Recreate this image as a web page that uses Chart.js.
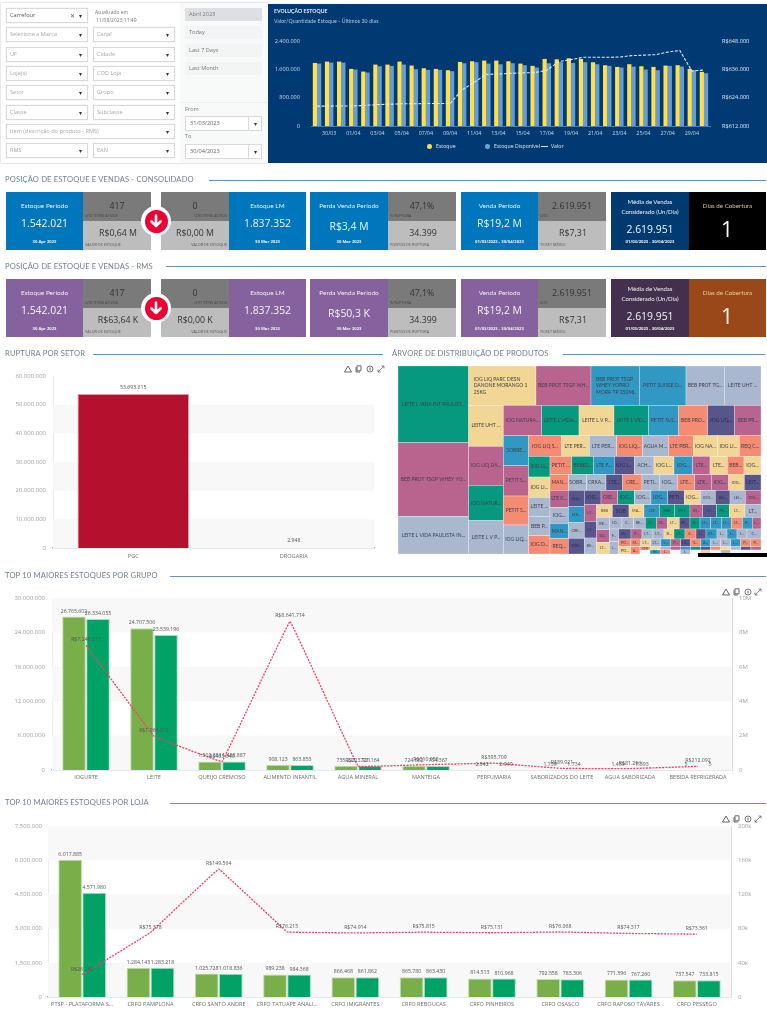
<!DOCTYPE html>
<html lang="pt-BR"><head><meta charset="utf-8"><title>Estoque</title>
<script src="https://cdn.jsdelivr.net/npm/chart.js@4"></script>
<style>
html,body{margin:0;padding:0;background:#fff;width:767px;height:1024px;overflow:hidden}
#root{position:relative;width:767px;height:1024px;overflow:hidden;font-family:"Open Sans",sans-serif;filter:blur(.35px)}
#root div,#root canvas,#root svg{position:absolute}
.t{white-space:nowrap;transform:translate(-50%,-50%);line-height:1}
.l{white-space:nowrap;transform:translate(0,-50%);line-height:1}
.r{white-space:nowrap;transform:translate(-100%,-50%);line-height:1}
</style></head><body><div id="root"></div>
<script>
/* ---------- Evolução estoque ---------- */
const evoDates=["29/03","30/03","31/03","01/04","02/04","03/04","04/04","05/04","06/04","07/04","08/04","09/04","10/04","11/04","12/04","13/04","14/04","15/04","16/04","17/04","18/04","19/04","20/04","21/04","22/04","23/04","24/04","25/04","26/04","27/04","28/04","29/04","30/04"];
const evoEstoque=[1781000,1819000,1819000,1612000,1537000,1734000,1734000,1819000,1706000,1631000,1612000,1575000,1809000,1828000,1847000,1847000,1828000,1762000,1697000,1894000,1884000,1912000,1894000,1800000,1716000,1669000,1744000,1687000,1669000,1706000,1716000,1612000,1528000];
const evoDisponivel=[1762000,1790000,1790000,1594000,1510000,1687000,1697000,1734000,1603000,1584000,1584000,1547000,1772000,1800000,1762000,1744000,1772000,1716000,1650000,1772000,1800000,1781000,1800000,1744000,1697000,1650000,1678000,1594000,1575000,1697000,1678000,1575000,1490000];
const evoValor=[620400,620400,620500,620500,620700,621100,621200,621400,621400,621500,621500,621500,627300,630500,633900,634000,634300,634500,634600,635600,639300,640100,641100,641100,641100,641200,641800,642000,642200,643300,644000,635300,635700];
/* ---------- Ruptura por setor ---------- */
const setorCats=["PGC","DROGARIA"];
const setorValues=[53693615,2948];
/* ---------- Top 10 grupo ---------- */
const grupoCats=["IOGURTE","LEITE","QUEIJO CREMOSO","ALIMENTO INFANTIL","AGUA MINERAL","MANTEIGA","PERFUMARIA","SABORIZADOS DO LEITE","AGUA SABORIZADA","BEBIDA REFRIGERADA"];
const grupoEstoque=[26765602,24707506,1502351,908123,735221,724582,2942,1739,1459,5];
const grupoDisponivel=[26334035,23539196,1488887,863853,721164,704367,2949,1734,1393,5];
const grupoValor=[7246211,1964812,485340,8641714,223721,310058,395709,89921,81296,212092];
/* ---------- Top 10 loja ---------- */
const lojaCats=["PTSP - PLATAFORMA S...","CRFO PAMPLONA","CRFO SANTO ANDRE","CRFO TATUAPE ANALI...","CRFO IMIGRANTES","CRFO REBOUCAS","CRFO PINHEIROS","CRFO OSASCO","CRFO RAPOSO TAVARES","CRFO PESSEGO"];
const lojaEstoque=[6017885,1284143,1025728,989238,866468,865780,814513,792558,771396,737547];
const lojaDisponivel=[4571980,1283218,1018836,984368,861862,863430,810968,783306,767260,733815];
const lojaValor=[26160,75378,149564,76215,74914,75815,75131,76068,74317,73561];
/* ---------- Árvore de distribuição ---------- */
const treeLabels=["LEITE L VIDA INT PAULIST...","BEB PROT TSGP WHEY YO...","LEITE L VIDA PAULISTA IN...",
"IOG LIQ PARC DESN|DANONE MORANGO 1|25KG","BEB PROT TSGP WH...","BEB PROT TSGP|WHEY YOPRO|MORA TP 250ML","PETIT SUISSE D...","BEB PROT TG...","LEITE UHT ...",
"LEITE UHT ...","IOG LIQ DA...","IOG NATUR...","LEITE L V P...",
"IOG NATURA...","LEITE L VIDA...","LEITE L V P...","LEITE L VID...","PETIT SUI...","BEB PRO...","IOG LIQ...","BEB PR...",
"SOBRE...","PETIT S...","PETIT S...","IOG LIQ...",
"IOG LIQ S...","LTE PER...","LTE PER...","IOG LIQ...","AGUA M...","LTE PER...","IOG NA...","IOG LI...","REQ C...",
"IOG LI...","IOG LI...","LEITE ...","BEB P...","IOG D...",
"PETIT ...","BEBID...","LTE F...","IOG L...","ACH...","IOG L...","IOG...","LTE...","LTE...","BEB...","IOG...",
"MAN...","LTE K...","IOG...","MAN...","REQ...",
"SOBR...","CRKA...","LTE...","CRE...","PETI...","IOG...","LTE...","LTE...","IOG...","IOG...","LEIT...",
"IOG...","LTK...","CRE...","SOB...",
"IOG...","CRE...","IOG...","IOG...","IOG...","PETI...","IOG...","IOG...","AG...","LEI...","IOG...",
"LT...","LT...","RE...",
"BEB","SOB","MA...","LTE","BEB","PET","IO...","LT...","PE...","LT...","LT...",
"BE...","SO...","LT...",
"IO...","C...","BE...","S...","IO...","LT...","PE...","B...","LT...","LT...","LT...","LT...","P...","L...",
"F...","I...",
"IO...","P...","LT...","LT...","B...","LT...","S...","L...","IO...","L...","L...","L...","C...",
"PO...","PO...",
"M...","LT...","LT...","S...","P...","IO...","S...","A...","L...","L...","L...","P...","P...",
"A...",
"OR","","","","","","","","","","","",
"","IN.","L.","","L.","","","","","","",""];
const treeValues=[48760,46852,23956,
23836,19470,17110,16520,13570,12980,
12792,12168,11024,10400,
10465,10192,9555,9464,8190,7917,7371,7189,
6840,6916,6612,6612,
6076,5208,5084,4774,4836,4650,4464,4092,4030,
3968,3904,3648,3712,3520,
3575,3575,3465,3300,3245,3300,3080,2860,2860,2750,2805,
2585,2805,2640,2530,2530,
2585,2726,2350,2726,2444,2538,2444,2350,2444,2209,2350,
2352,2304,2256,2256,
2150,2150,2150,2150,2150,2150,2064,1935,1892,1978,2021,
1850,1850,1776,
1786,1900,1710,1748,1748,1748,1444,1596,1444,1786,1824,
1406,1444,1330,
1330,1190,1260,1155,1155,1260,1120,1050,1120,1120,1050,1155,1050,910,
1064,1036,
1110,990,990,990,900,990,990,900,990,900,900,900,1260,
828,792,
690,690,690,690,690,690,690,690,690,690,690,690,713,
616,
303,302,303,302,303,302,303,302,303,302,303,303,
363,363,363,363,363,363,363,363,363,363,363,363];
const treeTones="GPL"+"YPBBLL"+"YPGL"+"PGYGBSDP"+"BPSL"+"SYLSLSYYS"+"GYLLS"+"SGBDLYBPYSY"+"SPLBS"+"LLDSLLSPPYD"+"DBLD"+"DPGLBDYLDLP"+"PDL"+"YDYBGGPDGYL"+"LPY"+"LLLGPYDGBBBSBP"+"LL"+"DPLLYGSDBLBLL"+"SY"+"SYLBPDSBLLBSS"+"S"+"SYLPBGDSYLDP"+"WBSWLWYWLWWW";
const treeStripCounts=[3,6,4,8,4,9,5,11,5,11,4,11,3,11,3,14,2,13,2,13,1,12,12];
const treeStripDirs="VHVHVHVHVHVHVHVHVHVHVHH";
/* ---------- Cards ---------- */
const cardRows=[
 {main:"#0076bd",dark:"#003a70",side:"#000000",sideTitle:"#d8c98e",arrowVal:"R$0,64 M",lmVal:"R$0,00 M",perda:"R$3,4 M"},
 {main:"#85619d",dark:"#43304f",side:"#9a4819",sideTitle:"#e8cf9a",arrowVal:"R$63,64 K",lmVal:"R$0,00 K",perda:"R$50,3 K"}
];

const root=document.getElementById('root');
const LATO='Lato,"Open Sans",sans-serif';
function box(x,y,w,h,bg,extra){const d=document.createElement('div');d.style.cssText=`left:${x}px;top:${y}px;width:${w}px;height:${h}px;background:${bg};box-sizing:border-box;${extra||''}`;root.appendChild(d);return d;}
function txt(x,y,s,size,color,cls,extra){const d=document.createElement('div');d.className=cls||'t';d.textContent=s;d.style.cssText=`left:${x}px;top:${y}px;font-size:${size}px;color:${color};${extra||''}`;root.appendChild(d);return d;}
function heading(x,y,s,lineFrom,lineTo){txt(x,y,s,7.6,'#6f8090','l',`font-family:${LATO};letter-spacing:.02em`);box(lineFrom,y-.5,lineTo-lineFrom,1,'#6a8fb8');}

/* filter panel */
box(1,3,267,160,'#fff','box-shadow:0 0 2px #bbb');
box(180,3,88,160,'#f8f9f9');
box(180,102,88,1,'#eeeeee');
function select(x,y,w,s,c,clear){box(x,y,w,15,'#fff','border:1px solid #d9d9d9;box-shadow:0 0 1px #ddd');txt(x+4,y+7.5,s,5.6,c||'#a8a8a8','l');
 txt(x+w-8,y+7.5,'▾',6,'#333');if(clear)txt(x+w-16,y+7.5,'✕',6,'#555');}
select(6,8,82,'Carrefour','#555',true);
txt(95,12,'Atualizado em',5,'#777','l');txt(96,19.5,'11/08/2023 11:49',5,'#777','l');
[["Selecione a Marca","Canal"],["UF","Cidade"],["Loja(s)","COD Loja"],["Setor","Grupo"],["Classe","Subclasse"]].forEach((r,i)=>{
 const y=[27,47,66,85,105][i];select(6,y,82,r[0]);select(93,y,82,r[1]);});
select(6,124,169,'Item (descrição do produto - RMS)');
select(6,143,82,'RMS');select(93,143,82,'EAN');
[["Abril 2023",8,'#dde0e3'],["Today",26,'#f2f4f6'],["Last 7 Days",44,'#f2f4f6'],["Last Month",62,'#f2f4f6']].forEach(a=>{box(185,a[1],77,13,a[2]);txt(189,a[1]+6.5,a[0],5.6,'#777','l');});
txt(185,109.5,'From',5.6,'#777','l');txt(185,137,'To',5.6,'#777','l');
[[116,'31/03/2023'],[144,'30/04/2023']].forEach(a=>{box(185,a[0],77,15,'#fff','border:1px solid #d9d9d9');box(248,a[0],1,15,'#d9d9d9');txt(190,a[0]+7.5,a[1],5.6,'#666','l');txt(255,a[0]+7.5,'▾',6,'#333');});

/* evolution panel */
box(268,4,499,159,'#013a72');
txt(274,12,'EVOLUÇÃO ESTOQUE',5.2,'#dfe8f2','l',`font-family:${LATO};font-weight:700`);
txt(274,22,'Valor/Quantidade Estoque - Últimos 30 dias',5.2,'#b7cbe0','l',`font-family:${LATO};letter-spacing:.02em`);
box(427,144,4.6,4.6,'#ffdf4f','border-radius:50%');txt(436,146.5,'Estoque',5.2,'#dfe8f2','l');
box(485,144,4.6,4.6,'#6aa5d8','border-radius:50%');txt(494,146.5,'Estoque Disponível',5.2,'#dfe8f2','l');
box(541,146,7,1,'#dfe8f2');txt(551,146.5,'Valor',5.2,'#dfe8f2','l');

/* section headings */
heading(5,180,'POSIÇÃO DE ESTOQUE E VENDAS - CONSOLIDADO',209,766);
heading(5,266.5,'POSIÇÃO DE ESTOQUE E VENDAS - RMS',166,766);
heading(5,354,'RUPTURA POR SETOR',93,383);
heading(392,354,'ÁRVORE DE DISTRIBUIÇÃO DE PRODUTOS',563,765);
heading(5,576,'TOP 10 MAIORES ESTOQUES POR GRUPO',170,766);
heading(5,803,'TOP 10 MAIORES ESTOQUES POR LOJA',170,766);

/* cards */
function mainBlock(x,w,y,bg,title,val,date,valY){box(x,y,w,58,bg);
 txt(x+w/2,y+14,title,6.4,'#f2f2f2','t',`font-family:${LATO};letter-spacing:.01em`);
 txt(x+w/2,y+(valY||31),val,10.4,'#f4f4f4');
 txt(x+w/2,y+50,date,4.2,'#f2f2f2','t','font-weight:700');}
function sideBlock(x,y,v1,l1,v2,l2,mirror){box(x,y,68,29,'#7a7a7a');box(x,y+29,68,29,'#bdbdbd');
 const cx=x+34,cls=mirror?'r':'l',lx=mirror?x+66:x+2;
 txt(x+34,y+14,v1,8.8,'#333');txt(lx,y+24,l1,3.8,'#444',cls);
 txt(cx+(mirror?0:1),y+40.5,v2,8.8,'#333');txt(lx,y+53,l2,3.8,'#555',cls);}
cardRows.forEach((c,i)=>{const y=i?279:192;
 mainBlock(6,77,y,c.main,'Estoque Período','1.542.021','30 Apr 2023');
 sideBlock(83,y,'417','QTD ITENS ATIVOS',c.arrowVal,'VALOR DE ESTOQUE',false);
 sideBlock(161,y,'0','QTD ITENS ATIVOS',c.lmVal,'VALOR DE ESTOQUE',true);
 mainBlock(229,77,y,c.main,'Estoque LM','1.837.352','30 Mar 2023');
 mainBlock(310,78,y,c.main,'Perda Venda Período',c.perda,'30 Mar 2023',34);
 sideBlock(388,y,'47,1%','% RUPTURA','34.399','PONTOS DE RUPTURA',false);
 mainBlock(461,77,y,c.main,'Venda Período','R$19,2 M','01/03/2023 - 30/04/2023',31);
 sideBlock(538,y,'2.619.951','QTD','R$7,31','TICKET MÉDIO',false);
 box(611,y,78,58,c.dark);
 txt(650,y+10,'Média de Vendas',6,'#f2f2f2','t',`font-family:${LATO}`);
 txt(650,y+19.5,'Considerado (Un/Dia)',6,'#f2f2f2','t',`font-family:${LATO}`);
 txt(650,y+37,'2.619.951',10.4,'#f4f4f4');
 txt(650,y+50,'01/03/2023 - 30/04/2023',4.2,'#f2f2f2','t','font-weight:700');
 box(689,y,77,58,c.side);
 txt(727.5,y+14,'Dias de Cobertura',6.2,c.sideTitle,'t',`font-family:${LATO}`);
 txt(727,y+37,'1',21,'#fff');
 /* arrow badge */
 const cy=y+29;box(141,cy-15,30,30,'#fff','border-radius:50%');box(144.5,cy-11.5,23,23,'#ee0033','border-radius:50%');
 const s=document.createElementNS('http://www.w3.org/2000/svg','svg');s.setAttribute('width',14);s.setAttribute('height',14);s.setAttribute('viewBox','0 0 14 14');s.style.cssText=`left:149px;top:${cy-7}px`;s.innerHTML='<path d="M7 1.5V12M2.5 7.5L7 12l4.5-4.5" fill="none" stroke="#fff" stroke-width="2.6" stroke-linecap="round" stroke-linejoin="round"/>';root.appendChild(s);
});

/* toolbar icons */
function tools(y,xs){const ic=['<path d="M4 1L7.5 7H.5z" fill="none" stroke="#666" stroke-width="1"/>','<path d="M2 .8h4v5H2zM1 2v5h4" fill="none" stroke="#666" stroke-width="1"/>','<circle cx="4" cy="4" r="3" fill="none" stroke="#666" stroke-width=".9"/><path d="M4 2.5v3" stroke="#666" stroke-width="1"/>','<path d="M1 7L7 1M4.5 1H7v2.5M1 4.5V7h2.5" fill="none" stroke="#666" stroke-width=".8"/>'];
 xs.forEach((x,i)=>{const s=document.createElementNS('http://www.w3.org/2000/svg','svg');s.setAttribute('width',8);s.setAttribute('height',8);s.setAttribute('viewBox','0 0 8 8');s.style.cssText=`left:${x-4}px;top:${y-4}px`;s.innerHTML=ic[i];root.appendChild(s);});}
tools(369,[348,359,370,381]);tools(592,[726,737,748,758]);tools(819,[726,737,748,758]);

/* ---------- chart helpers ---------- */
const fmt=v=>Math.round(v).toLocaleString('pt-BR');
function canvas(x,y,w,h){const c=document.createElement('canvas');c.width=w;c.height=h;c.style.cssText=`left:${x}px;top:${y}px;width:${w}px;height:${h}px`;root.appendChild(c);return c;}
const bands={id:'bands',beforeDatasetsDraw(ch,a,o){if(!o.on)return;const y=ch.scales.y,t=y.ticks,{left,right}=ch.chartArea;const c=ch.ctx;c.save();c.fillStyle='#f8f8f8';
 for(let i=0;i<t.length-1;i+=2){const p0=y.getPixelForValue(t[i].value),p1=y.getPixelForValue(t[i+1].value);c.fillRect(left,p1,right-left,p0-p1);}c.restore();}};
const valueLabels={id:'valueLabels',afterDatasetsDraw(ch){const c=ch.ctx;c.save();c.textAlign='center';c.textBaseline='alphabetic';
 ch.data.datasets.forEach((d,i)=>{if(!d.labelOf)return;const m=ch.getDatasetMeta(i);c.font=(d.labelSize||5.2)+'px "Open Sans"';c.fillStyle=d.labelColor||'#555';
  m.data.forEach((e,j)=>c.fillText(d.labelOf(d.data[j]),e.x,e.y-(d.labelGap||4)));});c.restore();}};
const noGrid={display:false,drawTicks:false};
/* pin an axis to a fixed thickness and drop the label overhang so the plot rectangle stays exact */
const pin=(prop,size)=>s=>{s[prop]=size;s.paddingTop=0;s.paddingBottom=0;s.paddingLeft=0;s.paddingRight=0;};
function comboOptions(box_,yl,yr){
 const scales={
  x:{grid:noGrid,border:{display:true,color:'#8ea7c7',width:1.3},ticks:{font:{size:5.6,family:'"Open Sans"'},color:'#6d6d6d',padding:box_.xPad,autoSkip:false,maxRotation:0},afterFit:pin('height',box_.b)},
  y:{position:'left',min:0,max:yl.max,grid:noGrid,border:{display:true,color:'#ececec'},ticks:{font:{size:6,family:'"Open Sans"'},color:'#a0a0a0',padding:box_.yPad,stepSize:yl.step,callback:v=>fmt(v)},afterFit:pin('width',box_.l)}};
 if(yr)scales.y2={position:'right',min:0,max:yr.max,grid:noGrid,border:{display:true,color:'#dcdcdc'},ticks:{font:{size:6,family:'"Open Sans"'},color:'#a0a0a0',padding:box_.y2Pad,stepSize:yr.step,callback:yr.cb},afterFit:pin('width',box_.r)};
 return{responsive:false,animation:false,events:[],layout:{padding:{top:box_.t,right:yr?0:box_.r,left:0,bottom:0}},plugins:{legend:{display:false},tooltip:{enabled:false},bands:{on:true}},scales};}
const barStyle=(c,bc)=>({backgroundColor:c,borderColor:bc,borderWidth:1,categoryPercentage:.705,barPercentage:.985,order:1,labelOf:fmt});
const GR1='#7aae4b',GR2='#00a265';
const lineStyle=yAxisID=>({type:'line',yAxisID,borderColor:'#f0405f',borderWidth:1.3,borderDash:[2,1.2],pointRadius:0,tension:.02,fill:false,order:0,labelOf:v=>'R$'+fmt(v),labelColor:'#555'});

/* evolution chart */
new Chart(canvas(268,30,499,115),{type:'bar',data:{labels:evoDates,datasets:[
 {type:'line',data:evoValor,yAxisID:'y2',borderColor:'#e3ebf4',borderWidth:1.1,borderDash:[3,1.6],pointRadius:0,tension:0,order:0},
 {data:evoEstoque,backgroundColor:'#ffdf4f',categoryPercentage:.7,barPercentage:1,order:1},
 {data:evoDisponivel,backgroundColor:'#649fd4',categoryPercentage:.7,barPercentage:1,order:2}]},
 options:{responsive:false,animation:false,events:[],layout:{padding:{top:11}},plugins:{legend:{display:false},tooltip:{enabled:false}},scales:{
  x:{grid:noGrid,border:{display:true,color:'#4f7fae'},ticks:{font:{size:5.4,family:'"Open Sans"'},color:'#c5d6e8',padding:4,autoSkip:false,maxRotation:0,callback(v,i){return i%2?evoDates[i]:'';}},afterFit:pin('height',19)},
  y:{min:0,max:2400000,grid:noGrid,border:{display:false},ticks:{font:{size:5.6,family:'"Open Sans"'},color:'#c5d6e8',padding:11,stepSize:800000,callback:v=>fmt(v)},afterFit:pin('width',43)},
  y2:{position:'right',min:612000,max:648000,grid:noGrid,border:{display:false},ticks:{font:{size:5.6,family:'"Open Sans"'},color:'#dfe8f2',padding:12,stepSize:12000,callback:v=>'R$'+fmt(v)},afterFit:pin('width',57)}}}});

/* ruptura por setor */
new Chart(canvas(0,370,390,195),{type:'bar',plugins:[bands,valueLabels],data:{labels:setorCats,datasets:[
 {data:setorValues,backgroundColor:'#b5112f',borderColor:'#e39aaa',borderWidth:1,categoryPercentage:.695,barPercentage:1,labelOf:fmt,labelGap:5.5}]},
 options:comboOptions({l:53,r:16,t:6,b:17,xPad:5,yPad:7},{max:60000000,step:10000000},null)});

/* top 10 grupo */
new Chart(canvas(0,590,767,200),{type:'bar',plugins:[bands,valueLabels],data:{labels:grupoCats,datasets:[
 Object.assign({data:grupoEstoque},barStyle(GR1,'#c5dcb0')),
 Object.assign({data:grupoDisponivel},barStyle(GR2,'#a8dcc4')),
 Object.assign({data:grupoValor},lineStyle('y2'))]},
 options:comboOptions({l:52,r:35,t:8,b:20,xPad:4,yPad:7,y2Pad:7},{max:30000000,step:6000000},{max:10000000,step:2000000,cb:v=>v?(v/1e6)+'M':'0'})});

/* top 10 loja */
new Chart(canvas(0,818,767,206),{type:'bar',plugins:[bands,valueLabels],data:{labels:lojaCats,datasets:[
 Object.assign({data:lojaEstoque},barStyle(GR1,'#c5dcb0')),
 Object.assign({data:lojaDisponivel},barStyle(GR2,'#a8dcc4')),
 Object.assign({data:lojaValor},lineStyle('y2'))]},
 options:comboOptions({l:48,r:36,t:8,b:27,xPad:4,yPad:6,y2Pad:7},{max:7500000,step:1500000},{max:200000,step:40000,cb:v=>v?(v/1000)+'k':'0'})});

/* treemap: alternating strips laid out from the values */
const treeW=treeValues.reduce((a,b)=>a+b,0)/564, treeH=564;
const toneColors={G:'#06997f',P:'#b9648f',L:'#a9b8cf',Y:'#f2d696',B:'#3198c4',S:'#f58b72',D:'#56568c',W:'#f4f6f8'};
function layoutTree(){let x=0,y=0,w=treeW,h=treeH,k=0;const cells=[];
 treeStripCounts.forEach((n,si)=>{const vs=treeValues.slice(k,k+n),sum=vs.reduce((a,b)=>a+b,0);
  if(treeStripDirs[si]==='V'){const sw=sum/h;let yy=y;vs.forEach((v,j)=>{const ch=v/sw;cells.push({x,y:yy,w:sw,h:ch,i:k+j});yy+=ch;});x+=sw;w-=sw;}
  else{const sh=sum/w;let xx=x;vs.forEach((v,j)=>{const cw=v/sh;cells.push({x:xx,y,w:cw,h:sh,i:k+j});xx+=cw;});y+=sh;h-=sh;}
  k+=n;});return cells;}
const treeCells=layoutTree();
const treePlugin={id:'treeCells',afterDatasetsDraw(ch){const c=ch.ctx,X=ch.scales.x,Y=ch.scales.y;c.save();
 treeCells.forEach(cell=>{const x0=X.getPixelForValue(cell.x),x1=X.getPixelForValue(cell.x+cell.w),y0=Y.getPixelForValue(cell.y),y1=Y.getPixelForValue(cell.y+cell.h);
  const tone=treeTones[cell.i];c.fillStyle=toneColors[tone]||toneColors.L;c.fillRect(x0,y0,x1-x0,y1-y0);
  c.strokeStyle='rgba(255,255,255,.55)';c.lineWidth=.5;c.strokeRect(x0,y0,x1-x0,y1-y0);
  const lab=treeLabels[cell.i];if(!lab)return;
  c.save();c.beginPath();c.rect(x0,y0,x1-x0,y1-y0);c.clip();
  c.fillStyle=tone==='D'?'#2c2c50':'#3f3f4c';c.font=(x1-x0<16?3.8:5)+'px Lato';c.textBaseline='middle';
  const lines=lab.split('|');
  if(lines.length>1){c.textAlign='left';lines.forEach((t,i)=>c.fillText(t,x0+5,(y0+y1)/2+(i-(lines.length-1)/2)*6.6));}
  else{c.textAlign='center';c.fillText(lab,(x0+x1)/2,(y0+y1)/2);}
  c.restore();});c.restore();}};
new Chart(canvas(398,366,363,188),{type:'scatter',plugins:[treePlugin],data:{datasets:[{data:treeCells.map(c=>({x:c.x+c.w/2,y:c.y+c.h/2})),pointRadius:0}]},
 options:{responsive:false,animation:false,events:[],plugins:{legend:{display:false},tooltip:{enabled:false}},
 scales:{x:{display:false,type:'linear',min:0,max:treeW},y:{display:false,type:'linear',reverse:true,min:0,max:treeH}}}});
box(698,553,69,4,'#000');
</script></body></html>
